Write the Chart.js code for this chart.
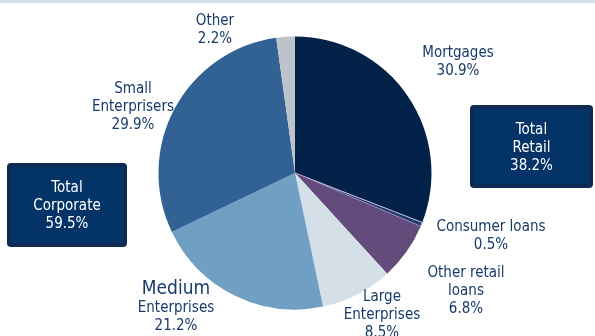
<!DOCTYPE html>
<html>
<head>
<meta charset="utf-8">
<script src="https://cdn.jsdelivr.net/npm/chart.js@4.4.1/dist/chart.umd.min.js"></script>
<style>
  html, body { margin: 0; padding: 0; background: #fff; }
  #wrap { position: relative; width: 595px; height: 336px; }
</style>
</head>
<body>
<div id="wrap"><canvas id="pie" width="595" height="336"></canvas></div>
<script>
// ===== loan book split =====
const categories = ["Mortgages", "Consumer loans", "Other retail loans", "Large Enterprises", "Medium Enterprises", "Small Enterprisers", "Other"];
const shares = [30.9, 0.5, 6.8, 8.5, 21.2, 29.9, 2.2];
const sliceColors = ["#03224a", "#1c3c6c", "#634b7c", "#d5dfe8", "#6fa0c4", "#326194", "#bec2cb"];

// label text split into lines (last line is the share)
const labelLines = [
  ["Mortgages"],
  ["Consumer loans"],
  ["Other retail", "loans"],
  ["Large", "Enterprises"],
  ["Medium", "Enterprises"],
  ["Small", "Enterprisers"],
  ["Other"]
];

const totalNames = [["Total", "Retail"], ["Total", "Corporate"]];
const totalValues = [38.2, 59.5];

// where each label block sits (center x, first baseline y)
const LABEL_POS = [
  { x: 458, y: 57 },
  { x: 491, y: 231 },
  { x: 466, y: 277 },
  { x: 382, y: 301 },
  { x: 176, y: 294 },
  { x: 133, y: 93 },
  { x: 215, y: 25 }
];
const BOX_POS = [
  { x: 470, y: 105, w: 123, h: 83 },
  { x: 7, y: 163, w: 120, h: 84 }
];

const TEXT_COLOR = "#173a6a";
const FONT = "'DejaVu Sans Condensed', 'DejaVu Sans', sans-serif";
const LINE_H = 18;

const fmt = (v) => v.toFixed(1) + "%";

const decorPlugin = {
  id: "decor",
  beforeDraw(chart) {
    const ctx = chart.ctx;
    ctx.save();
    ctx.fillStyle = "#d6dfe8";
    ctx.fillRect(0, 0, chart.width, 3);
    ctx.restore();
  },
  afterDraw(chart) {
    const ctx = chart.ctx;
    ctx.save();
    ctx.textAlign = "center";
    ctx.textBaseline = "alphabetic";

    // slice labels
    labelLines.forEach((lines, i) => {
      const p = LABEL_POS[i];
      const all = lines.concat([fmt(shares[i])]);
      let y = p.y;
      all.forEach((t) => {
        const big = t === "Medium";
        ctx.font = (big ? "19px " : "15px ") + FONT;
        ctx.fillStyle = TEXT_COLOR;
        ctx.fillText(t, p.x, y);
        y += LINE_H;
      });
    });

    // total boxes
    BOX_POS.forEach((b, i) => {
      ctx.beginPath();
      ctx.roundRect(b.x, b.y, b.w, b.h, 4);
      ctx.fillStyle = "#0c2a52";
      ctx.fill();
      ctx.beginPath();
      ctx.rect(b.x + 4, b.y + 4, b.w - 8, b.h - 8);
      ctx.fillStyle = "#043467";
      ctx.fill();

      const all = totalNames[i].concat([fmt(totalValues[i])]);
      ctx.font = "15px " + FONT;
      ctx.fillStyle = "#ffffff";
      let y = b.y + b.h / 2 - LINE_H + 5;
      all.forEach((t) => {
        ctx.fillText(t, b.x + b.w / 2, y);
        y += LINE_H;
      });
    });
    ctx.restore();
  }
};

new Chart(document.getElementById("pie"), {
  type: "pie",
  data: {
    labels: categories,
    datasets: [{
      data: shares,
      backgroundColor: sliceColors,
      borderColor: sliceColors.map((c, i) => (i === 1 ? "#c9bbdd" : c)),
      borderWidth: sliceColors.map((c, i) => (i === 1 ? 1 : 0))
    }]
  },
  options: {
    responsive: false,
    animation: false,
    layout: { padding: { top: 36, bottom: 26, left: 158, right: 163 } },
    plugins: {
      legend: { display: false },
      tooltip: { enabled: false }
    }
  },
  plugins: [decorPlugin]
});
</script>
</body>
</html>
